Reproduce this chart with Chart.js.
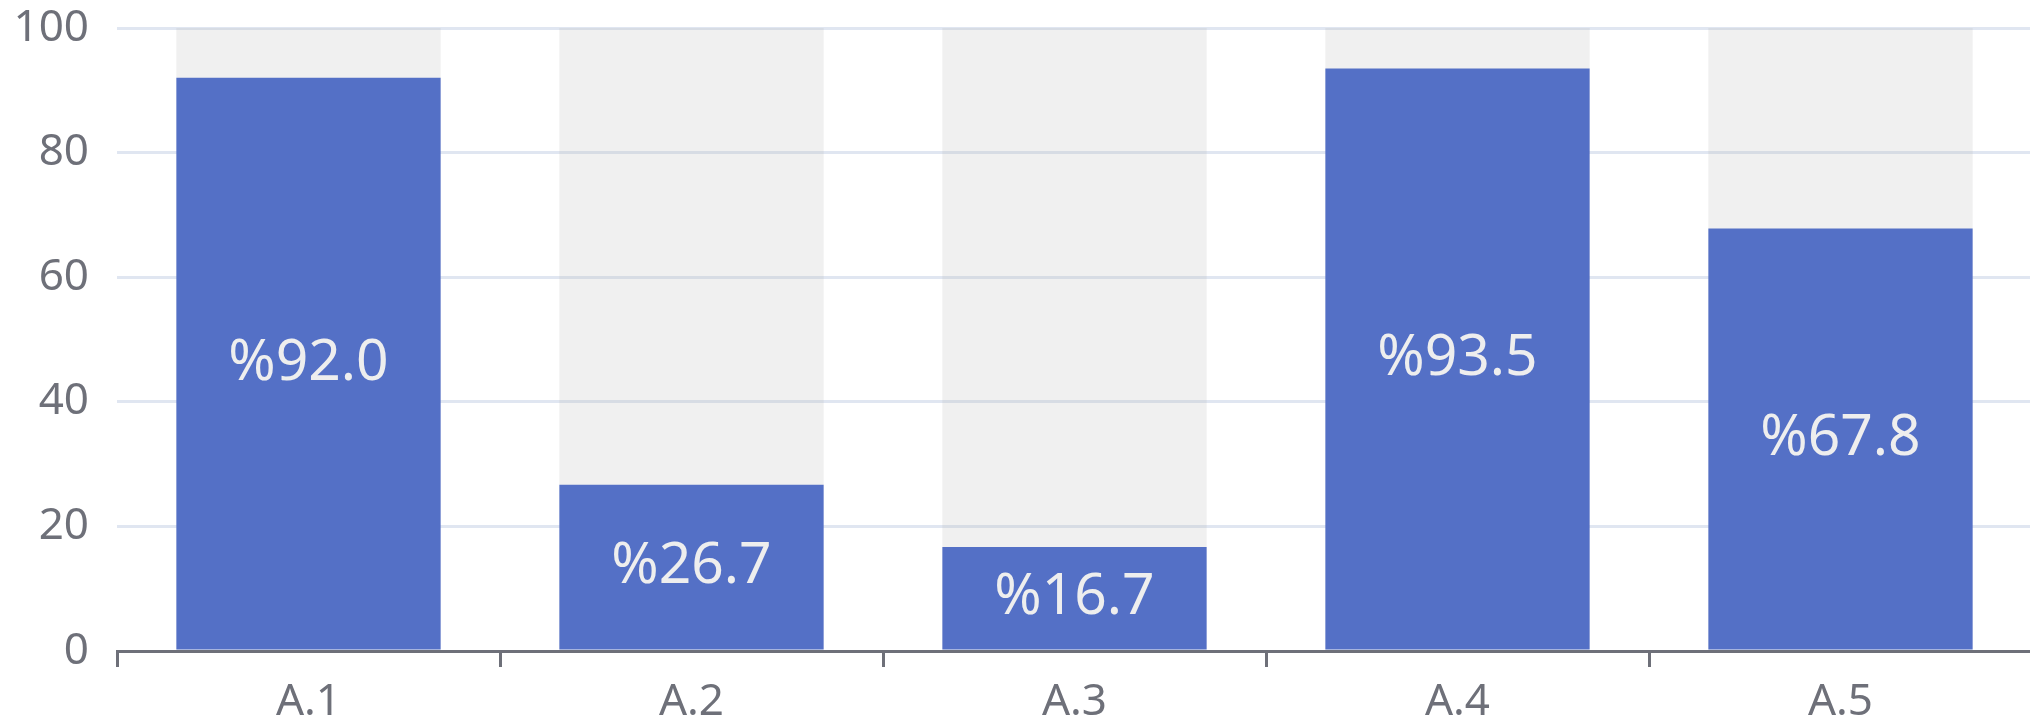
<!DOCTYPE html>
<html>
<head>
<meta charset="utf-8">
<script src="https://cdn.jsdelivr.net/npm/chart.js@4.4.1/dist/chart.umd.min.js"></script>
<style>
  html, body { margin: 0; padding: 0; background: #fff; overflow: hidden; }
  #wrap { width: 2032px; height: 722px; }
</style>
</head>
<body>
<div id="wrap"><canvas id="barChart"></canvas></div>
<script>
// Chart data
const categories = ['A.1', 'A.2', 'A.3', 'A.4', 'A.5'];
const values = [92.0, 26.7, 16.7, 93.5, 67.8];
const backgroundValues = [100, 100, 100, 100, 100];
const yTicks = [0, 20, 40, 60, 80, 100];

const axisColor = '#6E7079';
const gridColor = '#E0E6F1';
const fontFamily = '"Noto Sans", "Open Sans", sans-serif';

// Draws the "%xx.x" labels in the middle of each bar
const valueLabels = {
    id: 'valueLabels',
    afterDatasetsDraw(chart) {
        const ctx = chart.ctx;
        const meta = chart.getDatasetMeta(0);
        ctx.save();
        ctx.font = '57px ' + fontFamily;
        ctx.fillStyle = '#eeeeee';
        ctx.textAlign = 'center';
        ctx.textBaseline = 'middle';
        meta.data.forEach((bar, i) => {
            const mid = (bar.y + bar.base) / 2;
            ctx.fillText('%' + values[i].toFixed(1), bar.x, mid);
        });
        ctx.restore();
    }
};

const ctx = document.getElementById('barChart').getContext('2d');

new Chart(ctx, {
    type: 'bar',
    data: {
        labels: categories,
        datasets: [
            {
                data: values,
                backgroundColor: '#5470C6',
                barPercentage: 0.69,
                categoryPercentage: 1,
                order: 0
            },
            {
                data: backgroundValues,
                backgroundColor: 'rgba(180, 180, 180, 0.2)',
                barPercentage: 0.69,
                categoryPercentage: 1,
                order: 1
            }
        ]
    },
    options: {
        responsive: true,
        maintainAspectRatio: false,
        animation: false,
        layout: { padding: { top: 28, right: 0, left: 0, bottom: 0 } },
        scales: {
            x: {
                stacked: true,
                grid: {
                    drawOnChartArea: false,
                    drawTicks: true,
                    tickLength: 16,
                    tickWidth: 3,
                    tickColor: axisColor
                },
                border: { display: true, color: axisColor, width: 3 },
                ticks: {
                    color: axisColor,
                    padding: 9,
                    font: { family: fontFamily, size: 44 }
                },
                afterFit: (scale) => { scale.height = 71; }
            },
            y: {
                stacked: false,
                min: 0,
                max: 100,
                afterBuildTicks: (scale) => { scale.ticks = yTicks.map(v => ({ value: v })); },
                grid: {
                    color: gridColor,
                    lineWidth: 3,
                    drawTicks: false
                },
                border: { display: false },
                ticks: {
                    color: axisColor,
                    padding: 28,
                    font: { family: fontFamily, size: 44 }
                },
                afterFit: (scale) => {
                    scale.width = 117;
                    scale.paddingTop = 0;
                    scale.paddingBottom = 0;
                }
            }
        },
        plugins: {
            legend: { display: false },
            tooltip: { enabled: false }
        }
    },
    plugins: [valueLabels]
});
</script>
</body>
</html>
